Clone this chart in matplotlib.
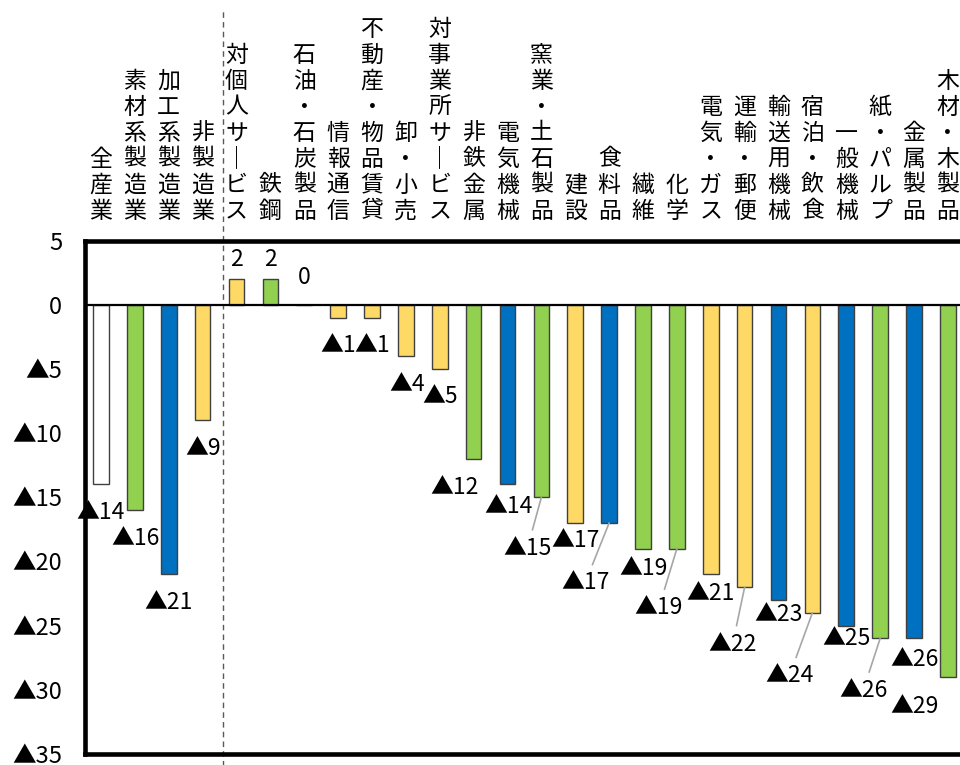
import matplotlib
matplotlib.use("Agg")
import matplotlib.pyplot as plt

plt.rcParams['font.family'] = ['Noto Sans CJK JP', 'DejaVu Sans']

# data
categories = ["全産業", "素材系製造業", "加工系製造業", "非製造業", "対個人サービス", "鉄鋼",
              "石油・石炭製品", "情報通信", "不動産・物品賃貸", "卸・小売", "対事業所サービス",
              "非鉄金属", "電気機械", "窯業・土石製品", "建設", "食料品", "繊維", "化学",
              "電気・ガス", "運輸・郵便", "輸送用機械", "宿泊・飲食", "一般機械", "紙・パルプ",
              "金属製品", "木材・木製品"]
values = [-14, -16, -21, -9, 2, 2, 0, -1, -1, -4, -5, -12, -14, -15, -17, -17, -19, -19,
          -21, -22, -23, -24, -25, -26, -26, -29]
# group: a = all industries, m = materials, p = processing, n = non-manufacturing
groups = ["a", "m", "p", "n", "n", "m", "m", "n", "n", "n", "n", "m", "p", "m", "n", "p",
          "m", "m", "n", "n", "p", "n", "p", "m", "p", "m"]
yticks = [5, 0, -5, -10, -15, -20, -25, -30, -35]

# layout: label offsets in pixels from bar end, and whether a leader line is drawn
label_off = [(0, -28), (1, -28), (0, -28), (0, -28), (0, 20), (0, 20), (0, 27), (0, -28),
             (0, -28), (1, -28), (0, -28), (-19, -29), (1, -22), (-14, -51), (0, -18),
             (-24, -60), (0, -20), (-18, -59), (0, -19), (-12, -57), (0, -15), (-23, -63),
             (0, -13), (-17, -52), (0, -21), (-33, -30)]
leader = [False] * 13 + [True, False, True, False, True, False, True, False, True,
                         False, True, False, False]

colors = {"a": "white", "m": "#92D050", "p": "#0070C0", "n": "#FFD966"}


def fmt(v):
    return "▲" + str(abs(v)) if v < 0 else str(v)


W, H = 960, 765
fig = plt.figure(figsize=(W / 100, H / 100), dpi=100)
ax = fig.add_axes([84.5 / W, (H - 754) / H, (975 - 84.5) / W, (754 - 240.5) / H])

x = list(range(len(categories)))
ax.bar(x, values, width=0.46, color=[colors[g] for g in groups],
       edgecolor="#404040", linewidth=1.0, zorder=2)
ax.axhline(0, color="black", lw=1.6, zorder=3)

ax.set_xlim(-0.487, 25.8)
ax.set_ylim(-35, 5)
ax.set_xticks([])
ax.set_yticks(yticks)
ax.set_yticklabels([fmt(t) for t in yticks], fontsize=17)
ax.tick_params(axis="y", length=0, pad=16)

for side in ["left", "top", "bottom"]:
    ax.spines[side].set_linewidth(3.3)
ax.spines["right"].set_visible(False)

# dashed separator between manufacturing and non-manufacturing
ax.axvline(3.6, ymin=-0.05, ymax=1.452, clip_on=False, color="#595959",
           lw=1.0, ls=(0, (4, 3)), zorder=1)

# value labels
for i, v in enumerate(values):
    arrow = None
    if leader[i]:
        arrow = dict(arrowstyle="-", color="#A6A6A6", lw=1.2, shrinkA=3, shrinkB=0)
    ax.annotate(fmt(v), xy=(i, v), xytext=label_off[i], textcoords="offset pixels",
                ha="center", va="center", fontsize=16.5, arrowprops=arrow, zorder=4)

# vertical category labels, one character per line, bottom aligned
pitch = 26
for i, name in enumerate(categories):
    chars = name.replace("ー", "｜")
    n = len(chars)
    for k, ch in enumerate(chars):
        ax.annotate(ch, xy=(i, 1), xycoords=ax.get_xaxis_transform(),
                    xytext=(0, 29.5 + (n - 1 - k) * pitch), textcoords="offset pixels",
                    ha="center", va="center", fontsize=16.5, annotation_clip=False)

fig.savefig("out.png", dpi=100)
